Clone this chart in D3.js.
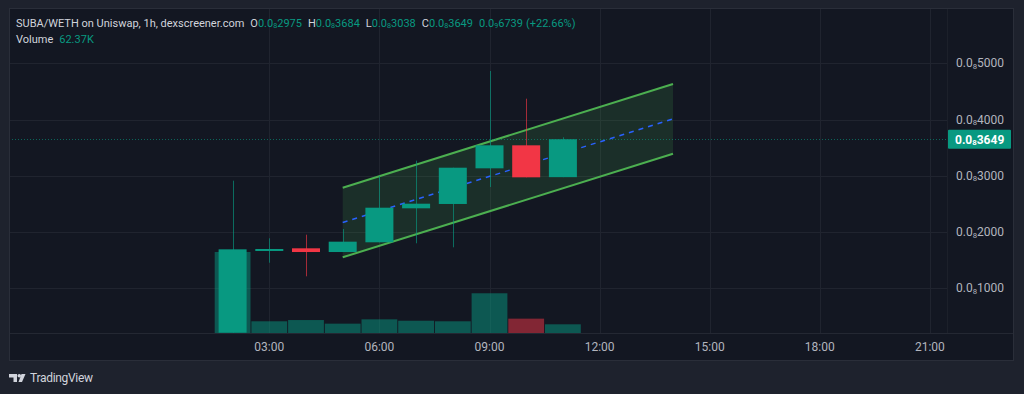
<!DOCTYPE html>
<html>
<head>
<meta charset="utf-8">
<script src="https://cdn.jsdelivr.net/npm/d3@7"></script>
<style>
html,body{margin:0;padding:0;background:#1e222d;}
svg{display:block;font-family:Roboto,"Noto Sans",sans-serif;}
</style>
</head>
<body>
<script>
// ---- data (prices in units of 1e-12 WETH, volume in K) ----
const hours  = [2, 3, 4, 5, 6, 7, 8, 9, 10, 11];
const open   = [210, 1697, 1710, 1644, 1817, 2421, 2498, 3132, 3541, 2975];
const high   = [2912, 1888, 1952, 2053, 2996, 3268, 3143, 4862, 4370, 3684];
const low    = [210, 1454, 1212, 1644, 1817, 1799, 1728, 2800, 2972, 2975];
const close  = [1692, 1698, 1644, 1828, 2432, 2503, 3143, 3541, 2972, 3649];
const volume = [581, 84, 93, 67, 98, 88, 84, 285, 103, 62.37];
const volumeUp = [true, true, true, true, true, true, true, true, false, true];

const timeTicks  = [3, 6, 9, 12, 15, 18, 21];
const timeLabels = ["03:00", "06:00", "09:00", "12:00", "15:00", "18:00", "21:00"];
const priceTicks = [1000, 2000, 3000, 4000, 5000];

// parallel channel
const channelHours = [5, 14];
const channelUpper = [2788, 4631];
const channelLower = [1550, 3392];

const headerTitle = "SUBA/WETH on Uniswap, 1h, dexscreener.com";
const headerOHLC  = [2975, 3684, 3038, 3649];
const headerKeys  = ["O", "H", "L", "C"];
const headerChange = 673.9;
const headerPct = "(+22.66%)";
const headerVolume = "62.37K";

// ---- layout ----
const W = 1024, H = 394;
const panel = {x0: 9, y0: 8, x1: 1014, y1: 361};
const plot = {x0: 9, x1: 947, y0: 8, y1: 333};

const GREEN = "#089981", RED = "#f23645";
const TXT = "#d1d4dc", AXT = "#b2b5be", GRID = "#20242f";

const svg = d3.select("body").append("svg").attr("width", W).attr("height", H);
svg.append("rect").attr("width", W).attr("height", H).attr("fill", "#1e222d");
svg.append("rect").attr("x", panel.x0 + 0.5).attr("y", panel.y0 + 0.5)
  .attr("width", panel.x1 - panel.x0 - 1).attr("height", panel.y1 - panel.y0 - 1)
  .attr("fill", "#131722").attr("stroke", "#2a2e39");

const x = d3.scaleLinear().domain([0, 24]).range([159.2, 1040]);
const y = d3.scaleLinear().domain([0, 5000]).range([344.5, 63.25]);
const yv = d3.scaleLinear().domain([0, d3.max(volume)]).range([plot.y1, 252]);

svg.append("clipPath").attr("id", "clip").append("rect")
  .attr("x", plot.x0 + 1).attr("y", plot.y0 + 1)
  .attr("width", plot.x1 - plot.x0 - 1).attr("height", plot.y1 - plot.y0 - 1);

// grid
const grid = svg.append("g");
grid.selectAll(".vg").data(timeTicks).join("line")
  .attr("x1", d => Math.round(x(d)) + 0.5).attr("x2", d => Math.round(x(d)) + 0.5)
  .attr("y1", plot.y0 + 1).attr("y2", plot.y1).attr("stroke", GRID);
grid.selectAll(".hg").data(priceTicks).join("line")
  .attr("x1", plot.x0 + 1).attr("x2", plot.x1)
  .attr("y1", d => Math.round(y(d)) + 0.5).attr("y2", d => Math.round(y(d)) + 0.5)
  .attr("stroke", GRID);
svg.append("line").attr("x1", plot.x0 + 1).attr("x2", panel.x1 - 1)
  .attr("y1", plot.y1 + 0.5).attr("y2", plot.y1 + 0.5).attr("stroke", "#242833");
svg.append("line").attr("x1", plot.x1 + 0.5).attr("x2", plot.x1 + 0.5)
  .attr("y1", plot.y0 + 1).attr("y2", plot.y1).attr("stroke", "#1c202a");

const g = svg.append("g").attr("clip-path", "url(#clip)");

// volume
const bw = 35.8;
g.selectAll(".vol").data(hours).join("rect")
  .attr("x", (d) => x(d) - bw / 2)
  .attr("width", bw)
  .attr("y", (d, i) => yv(volume[i]))
  .attr("height", (d, i) => plot.y1 - yv(volume[i]))
  .attr("fill", (d, i) => volumeUp[i] ? GREEN : RED)
  .attr("fill-opacity", 0.5);

// channel
const chPts = channelHours.map((h, i) => ({h, u: channelUpper[i], l: channelLower[i], m: (channelUpper[i] + channelLower[i]) / 2}));
const area = d3.area().x(d => x(d.h)).y0(d => y(d.l)).y1(d => y(d.u));
g.append("path").datum(chPts).attr("d", area).attr("fill", "#4caf50").attr("fill-opacity", 0.16);
const ln = key => d3.line().x(d => x(d.h)).y(d => y(d[key]));
g.append("path").datum(chPts).attr("d", ln("u")).attr("stroke", "#4caf50").attr("stroke-width", 2).attr("fill", "none");
g.append("path").datum(chPts).attr("d", ln("l")).attr("stroke", "#4caf50").attr("stroke-width", 2).attr("fill", "none");
g.append("path").datum(chPts).attr("d", ln("m")).attr("stroke", "#2962ff").attr("stroke-width", 1.5)
  .attr("stroke-dasharray", "5,5").attr("fill", "none");

// current price line
const last = close[close.length - 1];
g.append("line").attr("x1", plot.x0).attr("x2", plot.x1)
  .attr("y1", Math.round(y(last)) + 0.5).attr("y2", Math.round(y(last)) + 0.5)
  .attr("stroke", GREEN).attr("stroke-dasharray", "1,2").attr("stroke-opacity", 0.6);

// candles
const cw = 28;
const col = i => close[i] >= open[i] ? GREEN : RED;
g.selectAll(".wick").data(hours).join("line")
  .attr("x1", d => Math.round(x(d)) + 0.5).attr("x2", d => Math.round(x(d)) + 0.5)
  .attr("y1", (d, i) => y(high[i])).attr("y2", (d, i) => y(low[i]))
  .attr("stroke", (d, i) => col(i)).attr("stroke-opacity", 0.65);
g.selectAll(".body").data(hours).join("rect")
  .attr("x", d => x(d) - cw / 2).attr("width", cw)
  .attr("y", (d, i) => y(Math.max(open[i], close[i])))
  .attr("height", (d, i) => Math.max(2, Math.abs(y(open[i]) - y(close[i]))))
  .attr("fill", (d, i) => col(i));

function fmtParts(v) {
  if (v >= 1000) return ["0.0", "8", String(Math.round(v)).padStart(4, "0")];
  return ["0.0", "9", String(Math.round(v * 10)).padStart(4, "0")];
}
function addPrice(sel, v, fs, fill, dx) {
  const p = fmtParts(v);
  const a = sel.append("tspan").text(p[0]);
  if (dx) a.attr("dx", dx);
  const b = sel.append("tspan").attr("font-size", fs * 0.65).attr("dy", 1.5).text(p[1]);
  const c = sel.append("tspan").attr("dy", -1.5).text(p[2]);
  if (fill) [a, b, c].forEach(t => t.attr("fill", fill));
}

// price axis labels
priceTicks.forEach(t => {
  const tx = svg.append("text").attr("x", 956).attr("y", y(t)).attr("dy", "0.35em")
    .attr("fill", AXT).attr("font-size", 12);
  addPrice(tx, t, 12);
});
svg.append("rect").attr("x", 948).attr("y", y(last) - 9.5).attr("width", 63).attr("height", 19)
  .attr("fill", GREEN).attr("rx", 1);
const bt = svg.append("text").attr("x", 955).attr("y", y(last)).attr("dy", "0.36em")
  .attr("fill", "#ffffff").attr("font-size", 12).attr("font-weight", "bold");
addPrice(bt, last, 12);

// time axis labels
svg.selectAll(".tl").data(timeTicks).join("text")
  .attr("x", d => x(d)).attr("y", 347).attr("dy", "0.35em")
  .attr("text-anchor", "middle").attr("fill", AXT).attr("font-size", 12)
  .text((d, i) => timeLabels[i]);

// header
const FS = 11;
const h1 = svg.append("text").attr("x", 16).attr("y", 23).attr("dy", "0.35em")
  .attr("font-size", FS).attr("fill", TXT);
h1.append("tspan").text(headerTitle);
headerKeys.forEach((k, i) => {
  h1.append("tspan").attr("dx", 6).attr("fill", TXT).text(k);
  addPrice(h1, headerOHLC[i], FS, GREEN);
});
addPrice(h1, headerChange, FS, GREEN, 6);
h1.append("tspan").attr("dx", 3).attr("fill", GREEN).text(headerPct);

const h2 = svg.append("text").attr("x", 16).attr("y", 39).attr("dy", "0.35em")
  .attr("font-size", FS).attr("fill", TXT);
h2.append("tspan").text("Volume");
h2.append("tspan").attr("dx", 6).attr("fill", GREEN).text(headerVolume);

// TradingView logo
const logo = svg.append("g").attr("fill", TXT);
logo.append("path").attr("d", "M9,374 H17 V382 H13.5 V377.5 H9 Z");
logo.append("circle").attr("cx", 19.3).attr("cy", 375.8).attr("r", 1.8);
logo.append("path").attr("d", "M21.5,374 H25.5 L22,382 H18.5 Z");
svg.append("text").attr("x", 30).attr("y", 378).attr("dy", "0.35em")
  .attr("font-size", 12).attr("fill", TXT).attr("letter-spacing", -0.3).text("TradingView");
</script>
</body>
</html>
